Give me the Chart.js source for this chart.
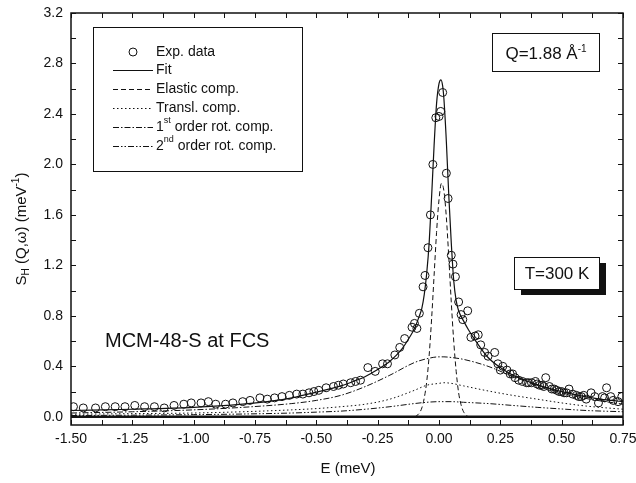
<!DOCTYPE html>
<html>
<head>
<meta charset="utf-8">
<script src="https://cdn.jsdelivr.net/npm/chart.js@4.4.0/dist/chart.umd.min.js"></script>
<style>
  body { margin: 0; background: #fff; }
  canvas { display: block; }
</style>
</head>
<body>
<canvas id="chartSH" width="636" height="483"></canvas>
<script>
// experimental points (E in meV, S_H in meV^-1)
const expE = [-1.49, -1.45, -1.40, -1.36, -1.32, -1.28, -1.24, -1.20, -1.16, -1.12,
  -1.08, -1.04, -1.01, -0.97, -0.94, -0.91, -0.87, -0.84, -0.80, -0.77,
  -0.73, -0.70, -0.67, -0.64, -0.61, -0.58, -0.555, -0.53, -0.51, -0.49,
  -0.46, -0.43, -0.41, -0.39, -0.36, -0.34, -0.32, -0.29, -0.26, -0.23,
  -0.21, -0.18, -0.16, -0.14, -0.11, -0.10, -0.09, -0.08, -0.065, -0.057,
  -0.045, -0.035, -0.025, -0.013, 0.000, 0.007, 0.015, 0.030, 0.037, 0.050,
  0.057, 0.067, 0.080, 0.090, 0.097, 0.117, 0.130, 0.147, 0.160, 0.170,
  0.186, 0.200, 0.227, 0.240, 0.250, 0.260, 0.277, 0.290, 0.300, 0.310,
  0.325, 0.340, 0.357, 0.365, 0.377, 0.393, 0.400, 0.410, 0.420, 0.427,
  0.435, 0.450, 0.460, 0.470, 0.480, 0.490, 0.500, 0.510, 0.520, 0.530,
  0.545, 0.560, 0.570, 0.580, 0.590, 0.600, 0.620, 0.635, 0.650, 0.666,
  0.675, 0.683, 0.700, 0.710, 0.730, 0.745];
const expS = [0.08, 0.07, 0.07, 0.08, 0.08, 0.08, 0.09, 0.08, 0.08, 0.07,
  0.09, 0.10, 0.11, 0.11, 0.12, 0.10, 0.10, 0.11, 0.12, 0.13,
  0.15, 0.14, 0.15, 0.16, 0.17, 0.18, 0.18, 0.19, 0.20, 0.21,
  0.23, 0.24, 0.25, 0.26, 0.27, 0.28, 0.29, 0.39, 0.36, 0.42,
  0.42, 0.49, 0.55, 0.62, 0.71, 0.74, 0.70, 0.82, 1.03, 1.12,
  1.34, 1.60, 2.00, 2.37, 2.38, 2.42, 2.57, 1.93, 1.73, 1.28,
  1.21, 1.11, 0.91, 0.81, 0.77, 0.84, 0.63, 0.64, 0.65, 0.57,
  0.51, 0.48, 0.51, 0.42, 0.37, 0.40, 0.37, 0.34, 0.34, 0.31,
  0.29, 0.28, 0.27, 0.27, 0.27, 0.28, 0.26, 0.25, 0.25, 0.24,
  0.31, 0.24, 0.22, 0.22, 0.21, 0.20, 0.20, 0.19, 0.19, 0.22,
  0.18, 0.17, 0.16, 0.16, 0.17, 0.14, 0.19, 0.16, 0.11, 0.16,
  0.15, 0.23, 0.16, 0.13, 0.12, 0.16];

// total fit
const fitE = [-1.5, -1.25, -1.0, -0.8, -0.7, -0.6, -0.5, -0.4, -0.35, -0.3,
  -0.25, -0.2, -0.15, -0.12, -0.1, -0.08, -0.07, -0.06, -0.05, -0.04,
  -0.03, -0.02, -0.01, 0.0, 0.008, 0.015, 0.02, 0.03, 0.04, 0.05,
  0.06, 0.07, 0.08, 0.10, 0.12, 0.15, 0.2, 0.25, 0.3, 0.35,
  0.4, 0.45, 0.5, 0.55, 0.6, 0.65, 0.7, 0.75];
const fitS = [0.05, 0.06, 0.075, 0.10, 0.12, 0.15, 0.195, 0.245, 0.28, 0.32,
  0.375, 0.44, 0.54, 0.63, 0.70, 0.80, 0.86, 0.97, 1.14, 1.38,
  1.75, 2.15, 2.48, 2.64, 2.67, 2.62, 2.52, 2.18, 1.75, 1.38,
  1.08, 0.92, 0.84, 0.76, 0.69, 0.60, 0.47, 0.39, 0.33, 0.29,
  0.255, 0.225, 0.20, 0.178, 0.158, 0.142, 0.13, 0.12];

// elastic component
const elasticE = [-1.5, -0.10, -0.09, -0.08, -0.07, -0.06, -0.05, -0.04, -0.03, -0.02,
  -0.01, 0.0, 0.01, 0.02, 0.03, 0.04, 0.05, 0.06, 0.07, 0.08,
  0.09, 0.10, 0.11, 0.12, 0.75];
const elasticS = [0, 0, 0.01, 0.03, 0.07, 0.15, 0.28, 0.49, 0.78, 1.12,
  1.46, 1.72, 1.85, 1.79, 1.58, 1.26, 0.91, 0.60, 0.36, 0.19,
  0.095, 0.04, 0.017, 0, 0];

// quasielastic components
const compE = [-1.5, -1.25, -1.0, -0.8, -0.6, -0.5, -0.4, -0.3, -0.2, -0.1,
  -0.05, 0.0, 0.02, 0.05, 0.1, 0.2, 0.3, 0.4, 0.5, 0.6, 0.75];
const translS = [0.02, 0.025, 0.03, 0.04, 0.055, 0.065, 0.08, 0.10, 0.14, 0.21,
  0.25, 0.265, 0.27, 0.265, 0.245, 0.205, 0.17, 0.14, 0.11, 0.085, 0.06];
const rot1S = [0.03, 0.04, 0.055, 0.075, 0.105, 0.13, 0.17, 0.24, 0.33, 0.43,
  0.46, 0.475, 0.475, 0.47, 0.455, 0.40, 0.32, 0.25, 0.19, 0.145, 0.10];
const rot2S = [0.01, 0.013, 0.017, 0.022, 0.03, 0.037, 0.045, 0.06, 0.08, 0.105,
  0.115, 0.12, 0.12, 0.12, 0.115, 0.105, 0.09, 0.075, 0.062, 0.05, 0.04];

// labelled ticks
const xLabelled = [-1.5, -1.25, -1.0, -0.75, -0.5, -0.25, 0, 0.25, 0.5, 0.75];
const yLabelled = [0, 0.4, 0.8, 1.2, 1.6, 2.0, 2.4, 2.8, 3.2];

const FONT = '"Liberation Sans", Arial, Helvetica, sans-serif';
const INK = '#111';

const DASH = {
  fit: [],
  elastic: [5, 3],
  transl: [1.5, 2.5],
  rot1: [6, 2, 1.5, 2],
  rot2: [6, 2, 1.5, 2, 1.5, 2]
};

function toPoints(xs, ys) {
  return xs.map((x, i) => ({x: x, y: ys[i]}));
}

function isLabelled(list, v) {
  return list.some(l => Math.abs(l - v) < 1e-6);
}

function line(ctx, x1, y1, x2, y2) {
  ctx.beginPath();
  ctx.moveTo(x1, y1);
  ctx.lineTo(x2, y2);
  ctx.stroke();
}

// text with sub/superscripts: parts = [text, size, dy]
function richWidth(ctx, parts) {
  let w = 0;
  parts.forEach(p => { ctx.font = p[1] + 'px ' + FONT; w += ctx.measureText(p[0]).width; });
  return w;
}
function drawRich(ctx, parts, x, y) {
  parts.forEach(p => {
    ctx.font = p[1] + 'px ' + FONT;
    ctx.fillText(p[0], x, y + (p[2] || 0));
    x += ctx.measureText(p[0]).width;
  });
}

const framePlugin = {
  id: 'frame',
  afterDatasetsDraw(chart) {
    const ctx = chart.ctx;
    const a = chart.chartArea;
    const xs = chart.scales.x, ys = chart.scales.y;
    ctx.save();
    ctx.strokeStyle = INK;
    ctx.fillStyle = INK;

    // zero line
    ctx.lineWidth = 2.5;
    const y0 = ys.getPixelForValue(0);
    line(ctx, a.left, y0, a.right, y0);

    // frame
    ctx.lineWidth = 1.5;
    ctx.strokeRect(a.left, a.top, a.right - a.left, a.bottom - a.top);

    // inward ticks on all sides
    ctx.lineWidth = 1;
    xs.ticks.forEach(t => {
      const px = Math.round(xs.getPixelForValue(t.value)) + 0.5;
      line(ctx, px, a.bottom, px, a.bottom - 5);
      line(ctx, px, a.top, px, a.top + 5);
    });
    ys.ticks.forEach(t => {
      const py = Math.round(ys.getPixelForValue(t.value)) + 0.5;
      line(ctx, a.left, py, a.left + 5, py);
      line(ctx, a.right, py, a.right - 5, py);
    });

    // legend
    ctx.lineWidth = 1;
    ctx.strokeRect(93.5, 27.5, 209, 144);
    const rows = [
      {label: [['Exp. data', 14]], marker: true},
      {label: [['Fit', 14]], dash: DASH.fit},
      {label: [['Elastic comp.', 14]], dash: DASH.elastic},
      {label: [['Transl. comp.', 14]], dash: DASH.transl},
      {label: [['1', 14], ['st', 9, -6], [' order rot. comp.', 14]], dash: DASH.rot1},
      {label: [['2', 14], ['nd', 9, -6], [' order rot. comp.', 14]], dash: DASH.rot2}
    ];
    const rowY = [52, 70, 89, 108, 127, 146];
    ctx.textBaseline = 'middle';
    ctx.textAlign = 'left';
    rows.forEach((r, i) => {
      const yy = rowY[i];
      if (r.marker) {
        ctx.setLineDash([]);
        ctx.beginPath();
        ctx.arc(133, yy, 4, 0, Math.PI * 2);
        ctx.stroke();
      } else {
        ctx.setLineDash(r.dash);
        line(ctx, 113, yy + 0.5, 153, yy + 0.5);
        ctx.setLineDash([]);
      }
      drawRich(ctx, r.label, 156, yy);
    });

    // Q box
    ctx.strokeRect(492.5, 33.5, 107, 38);
    const qParts = [['Q=1.88 \u00C5', 17], ['-1', 10, -7]];
    ctx.textBaseline = 'alphabetic';
    drawRich(ctx, qParts, 546 - richWidth(ctx, qParts) / 2, 59);

    // T box with shadow
    ctx.fillStyle = INK;
    ctx.fillRect(521, 263, 85, 32);
    ctx.fillStyle = '#fff';
    ctx.fillRect(514, 257, 85, 32);
    ctx.strokeRect(514.5, 257.5, 85, 32);
    ctx.fillStyle = INK;
    ctx.font = '17px ' + FONT;
    ctx.textAlign = 'center';
    ctx.fillText('T=300 K', 557, 279);

    // sample label
    ctx.textAlign = 'left';
    ctx.font = '20px ' + FONT;
    ctx.fillText('MCM-48-S at FCS', 105, 347);

    // axis titles
    ctx.textAlign = 'center';
    ctx.font = '15px ' + FONT;
    ctx.fillText('E (meV)', 348, 473);

    const yParts = [['S', 15], ['H', 10, 4], [' (Q,\u03C9) (meV', 15], ['-1', 10, -6], [')', 15]];
    ctx.save();
    ctx.translate(22, 229);
    ctx.rotate(-Math.PI / 2);
    ctx.textAlign = 'left';
    ctx.textBaseline = 'middle';
    drawRich(ctx, yParts, -richWidth(ctx, yParts) / 2, 0);
    ctx.restore();

    ctx.restore();
  }
};

const lineDefaults = {
  showLine: true,
  pointRadius: 0,
  borderColor: INK,
  borderWidth: 1,
  fill: false,
  cubicInterpolationMode: 'monotone'
};

const data = {
  datasets: [
    {
      label: 'Exp. data',
      data: toPoints(expE, expS),
      showLine: false,
      pointStyle: 'circle',
      pointRadius: 4,
      pointBorderWidth: 1,
      pointBorderColor: INK,
      pointBackgroundColor: 'rgba(0,0,0,0)'
    },
    Object.assign({}, lineDefaults, {label: 'Fit', data: toPoints(fitE, fitS), borderWidth: 1.2, borderDash: DASH.fit}),
    Object.assign({}, lineDefaults, {label: 'Elastic comp.', data: toPoints(elasticE, elasticS), borderDash: DASH.elastic}),
    Object.assign({}, lineDefaults, {label: 'Transl. comp.', data: toPoints(compE, translS), borderDash: DASH.transl}),
    Object.assign({}, lineDefaults, {label: '1st order rot. comp.', data: toPoints(compE, rot1S), borderDash: DASH.rot1}),
    Object.assign({}, lineDefaults, {label: '2nd order rot. comp.', data: toPoints(compE, rot2S), borderDash: DASH.rot2})
  ]
};

const config = {
  type: 'scatter',
  data: data,
  options: {
    responsive: false,
    animation: false,
    devicePixelRatio: 1,
    layout: {padding: {left: 0, top: 13, right: 13, bottom: 0}},
    plugins: {
      legend: {display: false},
      tooltip: {enabled: false}
    },
    scales: {
      x: {
        type: 'linear',
        min: -1.5,
        max: 0.75,
        grid: {display: false, drawTicks: false},
        border: {display: false},
        ticks: {
          stepSize: 0.125,
          autoSkip: false,
          maxRotation: 0,
          padding: 6,
          color: INK,
          font: {family: FONT, size: 14},
          callback: v => isLabelled(xLabelled, v) ? v.toFixed(2) : ''
        },
        afterFit: s => { s.height = 58; s.paddingLeft = 0; s.paddingRight = 0; }
      },
      y: {
        type: 'linear',
        min: -0.065,
        max: 3.2,
        grid: {display: false, drawTicks: false},
        border: {display: false},
        ticks: {
          stepSize: 0.2,
          includeBounds: false,
          autoSkip: false,
          padding: 8,
          color: INK,
          font: {family: FONT, size: 14},
          callback: v => isLabelled(yLabelled, v) ? v.toFixed(1) : ''
        },
        afterFit: s => { s.width = 71; s.paddingTop = 0; s.paddingBottom = 0; }
      }
    }
  },
  plugins: [framePlugin]
};

const chartSH = new Chart(document.getElementById('chartSH'), config);
</script>
</body>
</html>
